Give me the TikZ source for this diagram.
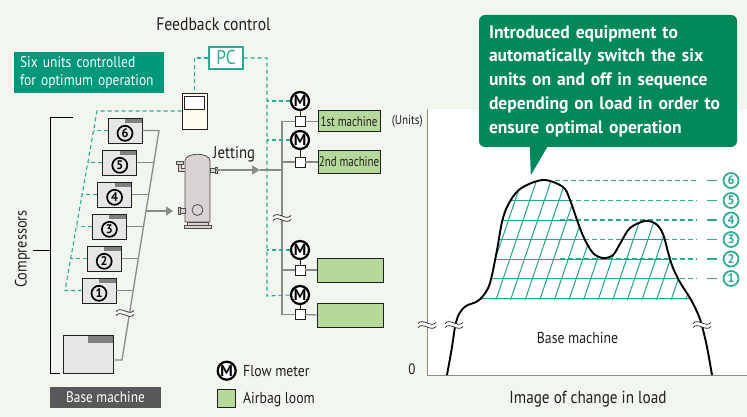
\documentclass[tikz,border=0pt]{standalone}
\usepackage{fontspec}
\setmainfont{PT Sans}[FakeStretch=0.87]
\newfontfamily\narrowfont{PT Sans}[FakeStretch=0.78]
\newfontfamily\heavyfont{PT Sans Bold}[FakeStretch=0.975]
\usetikzlibrary{arrows.meta,calc}

\definecolor{bgc}{HTML}{F1F6EE}
\definecolor{tealline}{HTML}{2BAA92}
\definecolor{tealbox}{HTML}{00977B}
\definecolor{callgreen}{HTML}{00885A}
\definecolor{loomgreen}{HTML}{B4D99A}
\definecolor{boxgray}{HTML}{E6E6E6}
\definecolor{tabgray}{HTML}{808080}
\definecolor{pipegray}{HTML}{8A8A8A}
\definecolor{tankfill}{HTML}{D8D3D3}
\definecolor{ctrlfill}{HTML}{FFFDEF}
\definecolor{labelgray}{HTML}{58585A}
\definecolor{ink}{HTML}{231F20}
\definecolor{hatchc}{HTML}{1DA68B}

% wavy "omitted" mark centred on a point, filled with the given colour
\newcommand{\breakmark}[2]{%
  \begin{scope}[shift={(#1)}]
    \fill[#2] (-9,-1.5) .. controls (-4,-7.5) and (4,3.5) .. (9,-2.5) -- (9,1.5)
              .. controls (4,7.5) and (-4,-3.5) .. (-9,2.5) -- cycle;
    \draw[ink, line width=0.7pt] (-9,-1.5) .. controls (-4,-7.5) and (4,3.5) .. (9,-2.5);
    \draw[ink, line width=0.7pt] (-9,2.5) .. controls (-4,-3.5) and (4,7.5) .. (9,1.5);
  \end{scope}}

\begin{document}
\begin{tikzpicture}[x=1pt, y=-1pt,
  txt/.style={text=ink, inner sep=0},
  tdash/.style={draw=tealline, line width=1.1pt, dash pattern=on 4pt off 3pt},
  pipe/.style={draw=pipegray, line width=1.3pt},
  comp/.style={draw=ink, line width=0.9pt, fill=boxgray, inner sep=0,
    minimum width=34pt, minimum height=25pt,
    path picture={\fill[tabgray] (path picture bounding box.north east) rectangle
      ([xshift=-17pt,yshift=-5pt]path picture bounding box.north east);}},
  basecomp/.style={comp, minimum width=50pt, minimum height=38pt,
    path picture={\fill[tabgray] (path picture bounding box.north east) rectangle
      ([xshift=-25pt,yshift=-8pt]path picture bounding box.north east);}},
  cnum/.style={circle, draw=black, line width=1.7pt, inner sep=0, minimum size=15pt,
    font=\heavyfont\fontsize{12.5}{12.5}\selectfont},
  rnum/.style={cnum, draw=tealline, text=tealline},
  meter/.style={circle, draw=black, fill=white, line width=2.2pt, inner sep=0,
    minimum size=18pt, font=\heavyfont\fontsize{16}{16}\selectfont},
  valve/.style={draw=ink, fill=white, line width=0.9pt, inner sep=0, minimum size=10pt},
  loom/.style={draw=ink, fill=loomgreen, line width=1pt, inner sep=0, text=ink,
    font=\narrowfont\fontsize{14}{14}\selectfont},
  hatch/.style={draw=hatchc, line width=1pt},
  lvl/.style={draw=tealline, line width=1.1pt, dash pattern=on 5pt off 3pt},
]
\useasboundingbox (0,0) rectangle (747,417);
\fill[bgc] (0,0) rectangle (747,417);

% ---------------- left: compressed-air system ----------------
\node[txt, anchor=base, font=\fontsize{18}{18}\selectfont] (fb) at (213.5,31) {Feedback control};

\node[draw=tealline, line width=1.1pt, fill=white, inner sep=0, minimum width=34pt,
      minimum height=22pt, text=tealline, font=\fontsize{20}{20}\selectfont] (PC) at (226,58) {PC};

\node[fill=tealbox, text=white, inner sep=0, minimum width=150pt, minimum height=41pt,
      text width=138pt, align=left, font=\fontsize{15.5}{18.3}\selectfont] (six) at (89,72.5)
      {Six units controlled\\for optimum operation};

% controller
\node[draw=ink, line width=0.9pt, fill=ctrlfill, inner sep=0, minimum width=25pt,
      minimum height=36pt] (ctrl) at (194.5,111) {};
\draw[ink, line width=0.9pt, fill=white] ([xshift=3pt,yshift=-4pt]ctrl.north west)
      rectangle ([xshift=-3pt,yshift=-17pt]ctrl.north east);

% compressors
\node[comp] (c6) at (125,130.5) {};
\node[comp] (c5) at (119.8,162.5) {};
\node[comp] (c4) at (114.6,194.5) {};
\node[comp] (c3) at (109.4,226.5) {};
\node[comp] (c2) at (104.2,258.5) {};
\node[comp] (c1) at (99,290.5) {};
\node[basecomp] (base) at (88,354) {};
\foreach \n in {1,...,6} \node[cnum] (n\n) at ([yshift=-2.8pt]c\n.center) {\n};

% bracket
\draw[black, line width=1pt] (73,118) -- (50,118) -- (50,373) -- (60,373);
\draw[black, line width=1pt] (33,250) -- (50,250);
\node[txt, rotate=90, font=\fontsize{16.5}{16.5}\selectfont] (compr) at (22.5,249) {Compressors};

\node[fill=labelgray, text=white, inner sep=0, minimum width=111pt, minimum height=21pt,
      font=\fontsize{15.3}{15.3}\selectfont] (baselbl) at (105.5,397.5) {Base machine};

% collector pipe
\coordinate (ktop) at (159,130.5);
\coordinate (kbot) at (122,360);
\draw[pipe] (c6.east) -- (ktop) -- (kbot) -- (base.east |- kbot);
\draw[pipe] (c5.east) -- (153.84,162.5);
\draw[pipe] (c4.east) -- (148.68,194.5);
\draw[pipe] (c3.east) -- (143.52,226.5);
\draw[pipe] (c2.east) -- (138.37,258.5);
\draw[pipe] (c1.east) -- (133.2,290.5);
\breakmark{125,313}{bgc}

% control wiring to compressors
\draw[tdash] (PC.west) -| (ctrl.north);
\draw[tdash] (ctrl.west) -- (97,111) -- (65,290.5) -- (c1.west);
\draw[tdash] (c6.west) -- (93.5,130.5);
\draw[tdash] (c5.west) -- (87.8,162.5);
\draw[tdash] (c4.west) -- (82.2,194.5);
\draw[tdash] (c3.west) -- (76.5,226.5);
\draw[tdash] (c2.west) -- (70.8,258.5);

% air tank
\coordinate (tankin) at (173,211);
\coordinate (tankout) at (216,170);
\begin{scope}[draw=ink!80, line width=0.8pt]
  \draw[fill=tankfill] (185,222) -- (185,161) .. controls (185,152) and (210,152) .. (210,161) -- (210,222) -- cycle;
  \draw[fill=tankfill] (187,222) rectangle (208,225);
  \draw[fill=tankfill] (184,225) rectangle (211,228.5);
  \draw (197.5,210) circle (5.5);
  \draw[fill=tankfill] (179,208.5) rectangle (185,213.5);
  \draw[fill=tankfill] (178,207.5) rectangle (180,214.5);
  \draw[fill=tankfill] (210,168) rectangle (215,172.5);
  \draw[fill=tankfill] (215,167) rectangle (217,173.5);
  \draw[line width=4pt] (180,164) -- (180,170) -- (185,170);
  \draw[line width=2.4pt, tankfill] (180,164) -- (180,170) -- (185,170);
  \draw[fill=tankfill] (176.5,161) rectangle (183.5,164.5);
\end{scope}
\draw[pipe, -{Triangle[length=7pt,width=9pt]}] (146.02,211) -- (tankin);

\node[txt, anchor=base west, font=\fontsize{17}{17}\selectfont] (jet) at (213,158) {Jetting};

% distribution to looms
\node[meter] (m1) at (300,101) {M};
\node[meter] (m2) at (300,140) {M};
\node[meter] (m3) at (300,250) {M};
\node[meter] (m4) at (300,295) {M};
\node[valve] (v1) at (300,121.5) {};
\node[valve] (v2) at (300,162) {};
\node[valve] (v3) at (300,270) {};
\node[valve] (v4) at (300,314.5) {};
\node[loom, minimum width=62pt, minimum height=21pt] (l1) at (349,121.5) {1st machine};
\node[loom, minimum width=62pt, minimum height=22pt] (l2) at (349,162) {2nd machine};
\node[loom, minimum width=66pt, minimum height=24pt] (l3) at (350,270) {};
\node[loom, minimum width=66pt, minimum height=24pt] (l4) at (350,315) {};
\foreach \i in {1,...,4} {
  \draw[ink, line width=0.9pt] (m\i.south) -- (v\i.north);
  \draw[pipe] (v\i.east) -- (l\i.west);
}
\coordinate (main) at (282,121.5);
\draw[pipe] (v1.west) -- (main) -- (main |- v4) -- (v4.west);
\draw[pipe] (main |- v2) -- (v2.west);
\draw[pipe] (main |- v3) -- (v3.west);
\draw[pipe, -{Triangle[length=8pt,width=9pt]}] (tankout) -- (260,170);
\draw[pipe] (260,170) -- (main |- tankout);
\breakmark{282,218}{bgc}

% feedback wiring to meters
\draw[tdash] (PC.east) -| (267,296) -- (m4.west);
\draw[tdash] (m1.west) -- (267,101);
\draw[tdash] (m2.west) -- (267,140);
\draw[tdash] (m3.west) -- (267,250);

% legend
\node[meter] (legm) at (226.7,370.7) {M};
\node[txt, anchor=base west, font=\fontsize{15.8}{15.8}\selectfont] (legmt) at (243,376.7) {Flow meter};
\node[draw=ink, line width=1pt, fill=loomgreen, inner sep=0, minimum size=18pt] (legl) at (226,398) {};
\node[txt, anchor=base west, font=\fontsize{15.8}{15.8}\selectfont] (leglt) at (243,403.3) {Airbag loom};

% ---------------- right: load chart ----------------
\fill[white] (427,109) rectangle (747,375);
\draw[pipegray, line width=1pt] (427,109) -- (427,375) -- (747,375);

% unit levels
\foreach \y/\x in {180.5/555, 200.5/560, 220/560, 239.5/560, 259/560, 278.5/560} {
  \draw[lvl] (\x,\y) -- (697,\y);
  \draw[tealline, line width=1.1pt] (707,\y) -- (717,\y);
}
\foreach \n/\y in {1/278.5, 2/259, 3/239.5, 4/220, 5/200.5, 6/180.5}
  \node[rnum] (r\n) at (731,\y) {\n};

% hatched band of the six units
\begin{scope}
  \clip plot[smooth, tension=0.55] coordinates {(447,375) (452,347) (455,327) (459,314) (466,306)
    (476,302) (483,296) (490,283) (497,250) (502,222) (508,205) (520,189) (543,180) (563,187)
    (570,200) (577,220) (584,238) (593,253) (603,258) (613,255) (621,242) (630,228) (645,221)
    (656,224) (663,234) (668,252) (673,268) (681,284) (690,298) (698,314) (702,326) (707,347)
    (712,375)} -- cycle;
  \clip (430,150) rectangle (747,299);
  \foreach \y in {298, 278.5, 259, 239.5, 220, 200.5}
    \draw[hatch] (430,\y) -- (747,\y);
  \foreach \i in {0,...,19}
    \draw[hatch] ({452.1+\i*14.6},300) -- ({452.1+\i*14.6+44.2},170);
\end{scope}

% load curve
\draw[black, line width=1.9pt, line join=round] plot[smooth, tension=0.55] coordinates {(447,375) (452,347) (455,327) (459,314) (466,306)
    (476,302) (483,296) (490,283) (497,250) (502,222) (508,205) (520,189) (543,180) (563,187)
    (570,200) (577,220) (584,238) (593,253) (603,258) (613,255) (621,242) (630,228) (645,221)
    (656,224) (663,234) (668,252) (673,268) (681,284) (690,298) (698,314) (702,326) (707,347)
    (712,375)};
\breakmark{427,325}{white}
\breakmark{454,325}{white}
\breakmark{702,325}{white}

\node[txt, anchor=base east, font=\fontsize{12.8}{12.8}\selectfont] (units) at (423,124.5) {(Units)};
\node[txt, anchor=base, font=\fontsize{15}{15}\selectfont] (zero) at (412,374.3) {0};
\node[txt, anchor=base, font=\fontsize{15.8}{15.8}\selectfont] (basem) at (577.5,343.3) {Base machine};
\node[txt, anchor=base, font=\fontsize{17.5}{17.5}\selectfont] (cap) at (588,403.3) {Image of change in load};

% call-out
\node[fill=callgreen, rounded corners=6pt, inner sep=0, minimum width=258pt, minimum height=132pt,
      text width=238pt, align=left, text=white, font=\heavyfont\fontsize{18}{23.75}\selectfont]
      (call) at (608,81)
      {Introduced equipment to\\automatically switch the six\\units on and off in sequence\\depending on load in order to\\ensure optimal operation};
\fill[callgreen] ([xshift=51pt,yshift=1pt]call.south west) -- ([xshift=52pt,yshift=-28pt]call.south west)
      -- ([xshift=69pt,yshift=1pt]call.south west) -- cycle;
\end{tikzpicture}
\end{document}
